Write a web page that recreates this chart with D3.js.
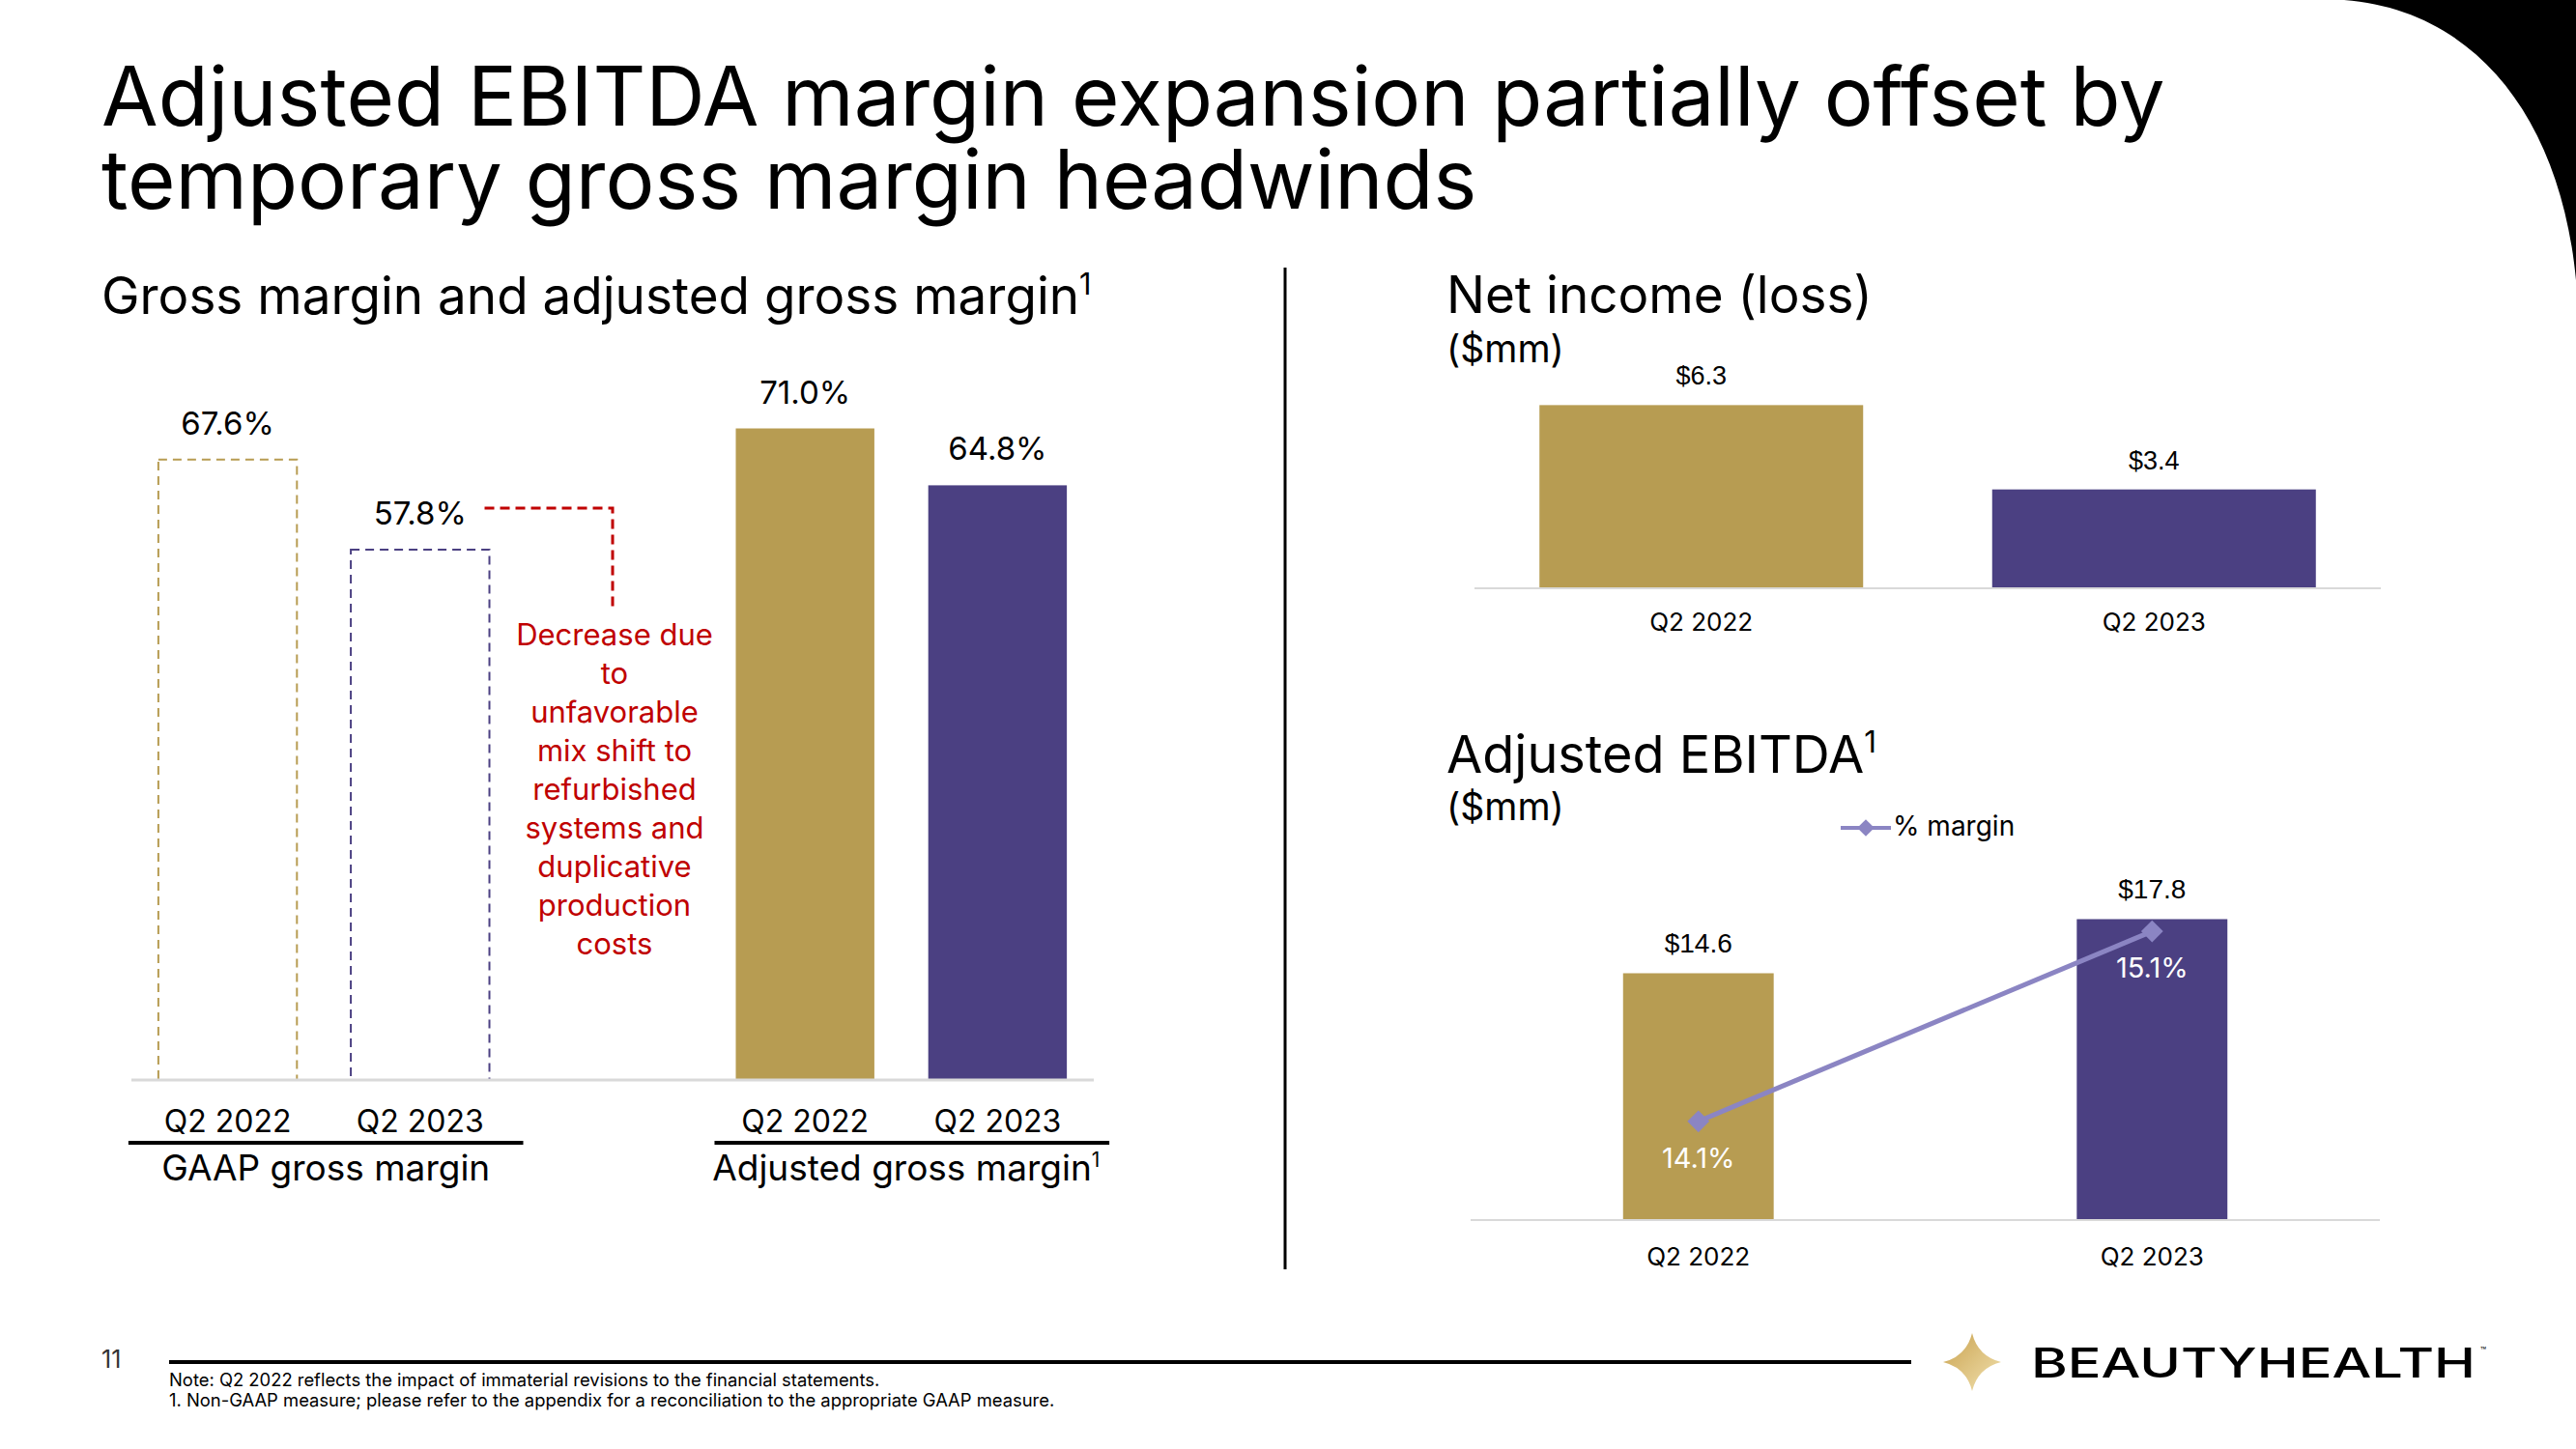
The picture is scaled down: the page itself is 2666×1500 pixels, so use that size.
<!DOCTYPE html>
<html>
<head>
<meta charset="utf-8">
<script src="https://cdn.jsdelivr.net/npm/d3@7"></script>
<style>
  html, body { margin: 0; padding: 0; background: #fff; }
  svg { display: block; }
  text { font-family: Inter, "Noto Sans", sans-serif; }
</style>
</head>
<body>
<div id="chart"></div>
<script>
// ---------------- DATA ----------------
const titleLines = ["Adjusted EBITDA margin expansion partially offset by", "temporary gross margin headwinds"];

const periods = ["Q2 2022", "Q2 2023"];

// Gross margin panel
const gmGroupLabels = ["GAAP gross margin", "Adjusted gross margin"];
const gaapGrossMargin = [67.6, 57.8];
const adjGrossMargin = [71.0, 64.8];
const annotationLines = ["Decrease due", "to", "unfavorable", "mix shift to", "refurbished", "systems and", "duplicative", "production", "costs"];

// Net income panel ($mm)
const netIncome = [6.3, 3.4];

// Adjusted EBITDA panel ($mm) and % margin
const adjEbitda = [14.6, 17.8];
const ebitdaMargin = [14.1, 15.1];

const footnotes = [
  "Note: Q2 2022 reflects the impact of immaterial revisions to the financial statements.",
  "1. Non-GAAP measure; please refer to the appendix for a reconciliation to the appropriate GAAP measure."
];

// ---------------- STYLE ----------------
const GOLD = "#B79C52", PURPLE = "#4B4082", LAVENDER = "#8B85C3", RED = "#C00000", AXIS = "#D9D9D9";
const periodColors = [GOLD, PURPLE];
const W = 2666, H = 1500;

const svg = d3.select("#chart").append("svg").attr("width", W).attr("height", H);
svg.append("rect").attr("width", W).attr("height", H).attr("fill", "#fff");

// corner decoration
svg.append("path")
  .attr("d", "M2426,0 C2560,10 2650,120 2666,290 L2666,0 Z")
  .attr("fill", "#000");

// title (one text, two lines)
const title = svg.append("text").attr("font-size", 85).attr("fill", "#000");
title.selectAll("tspan").data(titleLines).join("tspan")
  .attr("x", 105).attr("y", (d, i) => 130 + i * 86).text(d => d);

function supTitle(x, y, txt, size) {
  const t = svg.append("text").attr("x", x).attr("y", y).attr("font-size", size).attr("fill", "#000");
  t.append("tspan").text(txt);
  t.append("tspan").attr("font-size", size * 0.58).attr("dy", -size * 0.38).text("1");
  return t;
}

// divider
svg.append("line").attr("x1", 1330).attr("x2", 1330).attr("y1", 277).attr("y2", 1314)
  .attr("stroke", "#000").attr("stroke-width", 3);

// ================= LEFT: GROSS MARGIN =================
supTitle(105, 325, "Gross margin and adjusted gross margin", 53);

const slots = ["GAAP|0", "GAAP|1", "note", "ADJ|0", "ADJ|1"];
const xL = d3.scaleBand().domain(slots).range([136, 1132]).paddingInner(0.28).paddingOuter(0.14);
const yL = d3.scaleLinear().domain([0, 100]).range([1118, 168]);
const bwL = xL.bandwidth();

const gaapData = gaapGrossMargin.map((v, i) => ({ key: "GAAP|" + i, v, i }));
const adjData = adjGrossMargin.map((v, i) => ({ key: "ADJ|" + i, v, i }));

const gL = svg.append("g");
// GAAP dashed outline bars
gL.selectAll("rect.gaap").data(gaapData).join("rect")
  .attr("x", d => xL(d.key)).attr("y", d => yL(d.v))
  .attr("width", bwL).attr("height", d => yL(0) - yL(d.v))
  .attr("fill", "none").attr("stroke", d => periodColors[d.i])
  .attr("stroke-width", 2).attr("stroke-dasharray", "9,6");
// Adjusted filled bars
gL.selectAll("rect.adj").data(adjData).join("rect")
  .attr("x", d => xL(d.key)).attr("y", d => yL(d.v))
  .attr("width", bwL).attr("height", d => yL(0) - yL(d.v))
  .attr("fill", d => periodColors[d.i]);

// value labels
gL.selectAll("text.val").data(gaapData.concat(adjData)).join("text")
  .attr("x", d => xL(d.key) + bwL / 2).attr("y", d => yL(d.v) - 26)
  .attr("text-anchor", "middle").attr("font-size", 33).attr("fill", "#000")
  .text(d => d.v.toFixed(1) + "%");

// axis baseline
gL.append("line").attr("x1", 136).attr("x2", 1132).attr("y1", yL(0)).attr("y2", yL(0))
  .attr("stroke", AXIS).attr("stroke-width", 3);

// category labels
gL.selectAll("text.cat").data(gaapData.concat(adjData)).join("text")
  .attr("x", d => xL(d.key) + bwL / 2).attr("y", 1172)
  .attr("text-anchor", "middle").attr("font-size", 32).attr("fill", "#000")
  .text(d => periods[d.i]);

// group underline + labels
const groupSpans = [
  [xL("GAAP|0") - 31, xL("GAAP|1") + bwL + 35],
  [xL("ADJ|0") - 22, xL("ADJ|1") + bwL + 44]
];
gL.selectAll("line.grp").data(groupSpans).join("line")
  .attr("x1", d => d[0]).attr("x2", d => d[1]).attr("y1", 1183).attr("y2", 1183)
  .attr("stroke", "#000").attr("stroke-width", 4);
gmGroupLabels.forEach((lab, i) => {
  const cx = (groupSpans[i][0] + groupSpans[i][1]) / 2 - (i === 1 ? 6 : 0);
  const t = gL.append("text").attr("x", cx).attr("y", 1222).attr("text-anchor", "middle")
    .attr("font-size", 37).attr("fill", "#000");
  t.append("tspan").text(lab);
  if (i === 1) t.append("tspan").attr("font-size", 21).attr("dy", -14).text("1");
});

// annotation
const noteX = xL("note") + bwL / 2;
const annY = yL(gaapGrossMargin[1]) - 43;
gL.append("path")
  .attr("d", `M${xL("GAAP|1") + bwL - 5},${annY} H${noteX} V${annY + 103}`)
  .attr("fill", "none").attr("stroke", RED).attr("stroke-width", 3).attr("stroke-dasharray", "10,6");
gL.selectAll("text.ann").data(annotationLines).join("text")
  .attr("x", noteX + 2).attr("y", (d, i) => 668 + i * 40)
  .attr("text-anchor", "middle").attr("font-size", 31).attr("fill", RED)
  .text(d => d);

// ================= RIGHT TOP: NET INCOME =================
svg.append("text").attr("x", 1497).attr("y", 324).attr("font-size", 53).attr("fill", "#000").text("Net income (loss)");
svg.append("text").attr("x", 1497).attr("y", 375).attr("font-size", 39).attr("fill", "#000").text("($mm)");

const xN = d3.scaleBand().domain(periods).range([1526, 2464]).paddingInner(0.285).paddingOuter(0.1435);
const yN = d3.scaleLinear().domain([0, 7]).range([609, 609 - 7 * 30.1]);
const gN = svg.append("g");
const niData = netIncome.map((v, i) => ({ p: periods[i], v, i }));
gN.selectAll("rect").data(niData).join("rect")
  .attr("x", d => xN(d.p)).attr("y", d => yN(d.v))
  .attr("width", xN.bandwidth()).attr("height", d => yN(0) - yN(d.v))
  .attr("fill", d => periodColors[d.i]);
gN.append("line").attr("x1", 1526).attr("x2", 2464).attr("y1", yN(0)).attr("y2", yN(0))
  .attr("stroke", AXIS).attr("stroke-width", 2);
gN.selectAll("text.val").data(niData).join("text")
  .attr("x", d => xN(d.p) + xN.bandwidth() / 2).attr("y", d => yN(d.v) - 21)
  .attr("text-anchor", "middle").attr("font-size", 27).attr("fill", "#000")
  .style("font-family", "'Liberation Sans', Arial, sans-serif")
  .text(d => "$" + d.v.toFixed(1));
gN.selectAll("text.cat").data(niData).join("text")
  .attr("x", d => xN(d.p) + xN.bandwidth() / 2).attr("y", 653)
  .attr("text-anchor", "middle").attr("font-size", 26).attr("fill", "#000")
  .text(d => d.p);

// ================= RIGHT BOTTOM: ADJUSTED EBITDA =================
supTitle(1497, 800, "Adjusted EBITDA", 54);
svg.append("text").attr("x", 1497).attr("y", 849).attr("font-size", 39).attr("fill", "#000").text("($mm)");

const diamond = d3.symbol().type(d3.symbolDiamond2);

// legend
const gLeg = svg.append("g");
gLeg.append("line").attr("x1", 1905).attr("x2", 1957).attr("y1", 857).attr("y2", 857)
  .attr("stroke", LAVENDER).attr("stroke-width", 4);
gLeg.append("path").attr("d", diamond.size(200)()).attr("transform", "translate(1931,857)").attr("fill", LAVENDER);
gLeg.append("text").attr("x", 1959).attr("y", 865).attr("font-size", 28).attr("fill", "#000").text("% margin");

const xE = d3.scaleBand().domain(periods).range([1522, 2463]).paddingInner(0.668).paddingOuter(0.336);
const yE = d3.scaleLinear().domain([0, 20]).range([1263, 913]);
const yM = d3.scaleLinear().domain([13.58, 15.36]).range([1263, 913]);
const gE = svg.append("g");
const ebData = adjEbitda.map((v, i) => ({ p: periods[i], v, m: ebitdaMargin[i], i }));
const cxE = p => xE(p) + xE.bandwidth() / 2;

gE.selectAll("rect").data(ebData).join("rect")
  .attr("x", d => xE(d.p)).attr("y", d => yE(d.v))
  .attr("width", xE.bandwidth()).attr("height", d => yE(0) - yE(d.v))
  .attr("fill", d => periodColors[d.i]);
gE.append("line").attr("x1", 1522).attr("x2", 2463).attr("y1", yE(0)).attr("y2", yE(0))
  .attr("stroke", AXIS).attr("stroke-width", 2);
gE.selectAll("text.val").data(ebData).join("text")
  .attr("x", d => cxE(d.p)).attr("y", d => yE(d.v) - 22)
  .attr("text-anchor", "middle").attr("font-size", 28).attr("fill", "#000")
  .style("font-family", "'Liberation Sans', Arial, sans-serif")
  .text(d => "$" + d.v.toFixed(1));

// margin line
gE.append("path").datum(ebData)
  .attr("d", d3.line().x(d => cxE(d.p)).y(d => yM(d.m)))
  .attr("fill", "none").attr("stroke", LAVENDER).attr("stroke-width", 5);
gE.selectAll("path.mk").data(ebData).join("path")
  .attr("d", diamond.size(330)())
  .attr("transform", d => `translate(${cxE(d.p)},${yM(d.m)})`)
  .attr("fill", LAVENDER);
gE.selectAll("text.mlab").data(ebData).join("text")
  .attr("x", d => cxE(d.p)).attr("y", d => yM(d.m) + 48)
  .attr("text-anchor", "middle").attr("font-size", 29).attr("fill", "#fff")
  .text(d => d.m.toFixed(1) + "%");
gE.selectAll("text.cat").data(ebData).join("text")
  .attr("x", d => cxE(d.p)).attr("y", 1310)
  .attr("text-anchor", "middle").attr("font-size", 26).attr("fill", "#000")
  .text(d => d.p);

// ================= FOOTER =================
svg.append("text").attr("x", 105).attr("y", 1416).attr("font-size", 25).attr("fill", "#333").text("11");
svg.append("line").attr("x1", 175).attr("x2", 1978).attr("y1", 1410).attr("y2", 1410)
  .attr("stroke", "#000").attr("stroke-width", 4);
svg.selectAll("text.fn").data(footnotes).join("text")
  .attr("x", 175).attr("y", (d, i) => 1435 + i * 21)
  .attr("font-size", 18.4).attr("fill", "#000").text(d => d);

// logo
const defs = svg.append("defs");
const grad = defs.append("linearGradient").attr("id", "goldGrad")
  .attr("x1", "0%").attr("y1", "0%").attr("x2", "100%").attr("y2", "100%");
grad.append("stop").attr("offset", "0%").attr("stop-color", "#C9A24F");
grad.append("stop").attr("offset", "100%").attr("stop-color", "#F2E2B0");
const sx = 2041, sy = 1410, r = 30, k = 6;
svg.append("path")
  .attr("d", `M${sx},${sy - r} Q${sx + k},${sy - k} ${sx + r},${sy} Q${sx + k},${sy + k} ${sx},${sy + r} Q${sx - k},${sy + k} ${sx - r},${sy} Q${sx - k},${sy - k} ${sx},${sy - r} Z`)
  .attr("fill", "url(#goldGrad)");
svg.append("text").attr("x", 2102).attr("y", 1426).attr("font-size", 43).attr("font-weight", 500)
  .attr("fill", "#000").attr("textLength", 460).attr("lengthAdjust", "spacingAndGlyphs")
  .text("BEAUTYHEALTH");
svg.append("text").attr("x", 2567).attr("y", 1402).attr("font-size", 10).attr("fill", "#000").text("™");
</script>
</body>
</html>
